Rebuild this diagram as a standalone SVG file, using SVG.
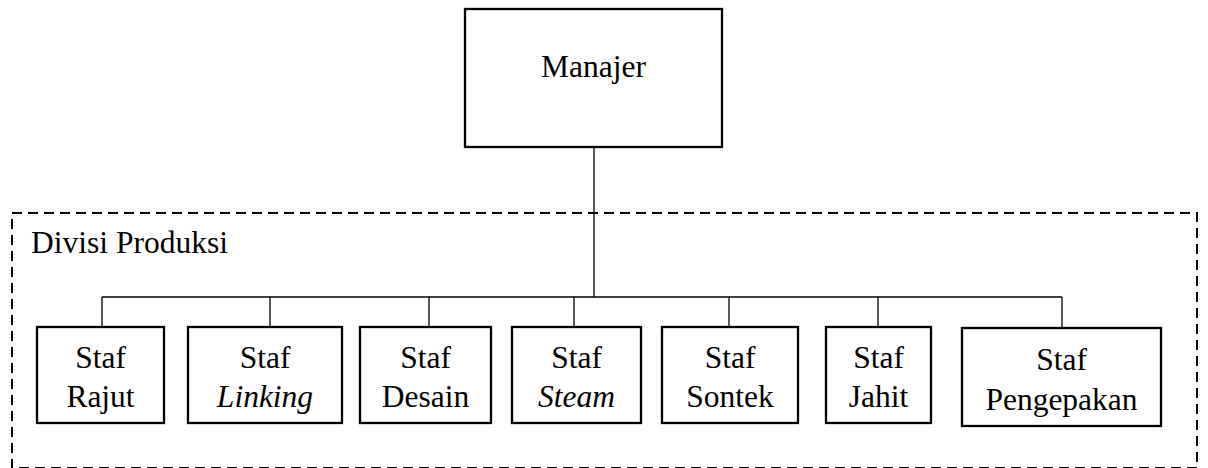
<svg xmlns="http://www.w3.org/2000/svg" width="1208" height="468" viewBox="0 0 1208 468">
  <style>
    .box { fill: #fff; stroke: #000; stroke-width: 2.3; }
    .division { fill: none; stroke: #000; stroke-width: 2; stroke-dasharray: 10 6; }
    .wire { fill: none; stroke: #000; stroke-width: 1.3; }
    text { font-family: "Liberation Serif", "Times New Roman", serif; font-size: 31.5px; fill: #000; }
    .c { text-anchor: middle; }
    .i { font-style: italic; }
  </style>
  <rect width="1208" height="468" fill="#fff"/>

  <!-- production division frame -->
  <g id="divisi-produksi">
    <rect class="division" x="12" y="213" width="1185" height="255"/>
    <text x="31" y="253">Divisi Produksi</text>
  </g>

  <!-- reporting lines: trunk, bus and drops -->
  <g id="connectors">
    <line class="wire" x1="594" y1="147" x2="594" y2="297"/>
    <line class="wire" x1="102" y1="297" x2="1062" y2="297"/>
    <line class="wire" x1="102" y1="297" x2="102" y2="327"/>
    <line class="wire" x1="270" y1="297" x2="270" y2="327"/>
    <line class="wire" x1="429" y1="297" x2="429" y2="327"/>
    <line class="wire" x1="574" y1="297" x2="574" y2="327"/>
    <line class="wire" x1="729" y1="297" x2="729" y2="327"/>
    <line class="wire" x1="878" y1="297" x2="878" y2="327"/>
    <line class="wire" x1="1062" y1="297" x2="1062" y2="328"/>
  </g>

  <g id="manajer">
    <rect class="box" x="465" y="9" width="257" height="138"/>
    <text class="c" x="593.5" y="77">Manajer</text>
  </g>

  <g id="staf-rajut">
    <rect class="box" x="37" y="327" width="127" height="96"/>
    <text class="c" x="100.5" y="368">Staf</text>
    <text class="c" x="100.5" y="407">Rajut</text>
  </g>

  <g id="staf-linking">
    <rect class="box" x="188" y="327" width="154" height="96"/>
    <text class="c" x="265" y="368">Staf</text>
    <text class="c i" x="265" y="407">Linking</text>
  </g>

  <g id="staf-desain">
    <rect class="box" x="360" y="327" width="131" height="96"/>
    <text class="c" x="425.5" y="368">Staf</text>
    <text class="c" x="425.5" y="407">Desain</text>
  </g>

  <g id="staf-steam">
    <rect class="box" x="512" y="327" width="129" height="96"/>
    <text class="c" x="576.5" y="368">Staf</text>
    <text class="c i" x="576.5" y="407">Steam</text>
  </g>

  <g id="staf-sontek">
    <rect class="box" x="662" y="327" width="136" height="96"/>
    <text class="c" x="730" y="368">Staf</text>
    <text class="c" x="730" y="407">Sontek</text>
  </g>

  <g id="staf-jahit">
    <rect class="box" x="826" y="327" width="105" height="96"/>
    <text class="c" x="878.5" y="368">Staf</text>
    <text class="c" x="878.5" y="407">Jahit</text>
  </g>

  <g id="staf-pengepakan">
    <rect class="box" x="962" y="328" width="199" height="98"/>
    <text class="c" x="1061.5" y="370">Staf</text>
    <text class="c" x="1061.5" y="410">Pengepakan</text>
  </g>
</svg>
